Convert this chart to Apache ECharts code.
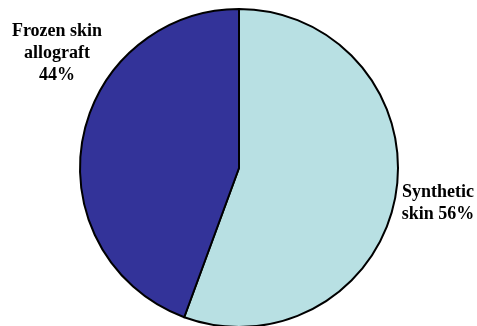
<!DOCTYPE html>
<html>
<head>
<meta charset="utf-8">
<script src="https://cdn.jsdelivr.net/npm/echarts@6/dist/echarts.min.js"></script>
<style>
  html, body { margin: 0; padding: 0; background: #fff; }
  #chart { width: 477px; height: 326px; }
</style>
</head>
<body>
<div id="chart"></div>
<script>
var names = ["Synthetic\nskin", "Frozen skin\nallograft\n"];
var values = [55.6, 44.4];
var colors = ["#B8E0E3", "#333399"];

// label anchor points (px), one per slice
var labelPos = [[438, 203], [57, 53]];

var chart = echarts.init(document.getElementById("chart"));

var data = values.map(function (v, i) {
  return { name: names[i], value: v, itemStyle: { color: colors[i] } };
});

chart.setOption({
  animation: false,
  series: [
    {
      type: "pie",
      center: [239, 168],
      radius: [0, 159],
      startAngle: 90,
      clockwise: true,
      data: data,
      itemStyle: { borderColor: "#000", borderWidth: 2 },
      label: {
        show: true,
        position: "outside",
        alignTo: "none",
        overflow: "none",
        bleedMargin: 0,
        formatter: function (p) {
          var sep = p.dataIndex === 0 ? " " : "";
          return p.name + sep + Math.round(p.percent) + "%";
        },
        fontFamily: "Liberation Serif",
        fontWeight: "bold",
        fontSize: 18,
        lineHeight: 22,
        color: "#000",
        align: "center",
      },
      labelLine: { show: false },
      labelLayout: function (params) {
        var pos = labelPos[params.dataIndex];
        return { x: pos[0], y: pos[1], align: "center", verticalAlign: "middle" };
      },
      emphasis: { disabled: true },
    },
  ],
});
</script>
</body>
</html>
